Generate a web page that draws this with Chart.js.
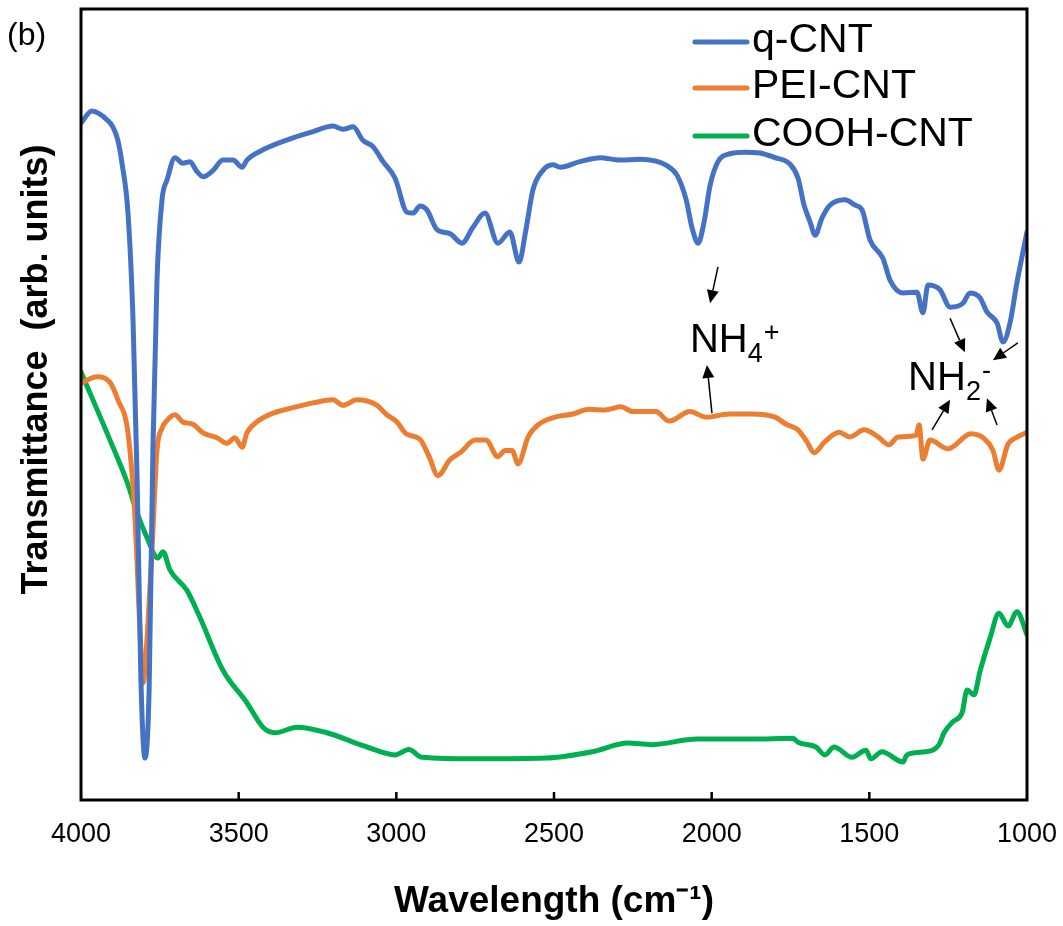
<!DOCTYPE html>
<html><head><meta charset="utf-8">
<script src="https://cdn.jsdelivr.net/npm/chart.js@4/dist/chart.umd.min.js"></script>
<style>html,body{margin:0;padding:0;background:#fff;}#wrap{width:1063px;height:926px;}</style>
</head><body><div id="wrap"><canvas id="c" width="1063" height="926"></canvas></div>
<script>
// ---- data (wavenumber in cm-1, transmittance in arb. units 0-100) ----
const seriesNames = ['q-CNT', 'PEI-CNT', 'COOH-CNT'];
const seriesColors = ['#4472C4', '#ED7D31', '#00B050'];
const xTickValues = [4000, 3500, 3000, 2500, 2000, 1500, 1000];

const qcntWn = [4000,3965,3940,3918,3899,3883,3870,3851,3835,3822,3810,3797,3784,3772,3759,3743,3727,3702,3677,3654,3635,3613,3581,3550,3518,3489,3474,3423,3328,3264,3201,3169,3137,3106,3074,3042,3004,2966,2947,2925,2903,2871,2830,2792,2757,2719,2678,2640,2611,2589,2567,2535,2503,2481,2418,2354,2291,2227,2180,2142,2110,2081,2062,2043,2024,2005,1980,1942,1894,1847,1799,1752,1726,1707,1688,1672,1650,1625,1577,1545,1523,1498,1457,1434,1393,1349,1330,1314,1276,1244,1203,1181,1149,1127,1095,1076,1054,1032,1000];
const qcntT = [85.6,87.1,86.7,86.0,85.1,83.4,80.5,74.2,60.7,40.5,15.2,5.3,13.9,44.2,65.7,75.9,78.4,81.2,80.5,80.7,79.6,78.8,79.6,80.9,80.9,80.0,80.9,82.2,83.7,84.5,85.2,84.8,85.1,83.4,82.6,80.7,78.6,74.3,74.2,75.1,74.6,72.1,71.6,70.4,72.4,74.2,70.4,71.8,68.0,72.1,77.1,79.6,80.3,80.0,80.7,81.2,80.9,81.0,80.8,80.2,79.0,75.9,72.3,70.4,73.1,77.7,80.7,81.7,81.9,81.8,81.2,80.4,78.6,75.2,73.1,71.4,73.6,75.2,75.9,75.2,74.6,70.8,68.5,65.7,64.1,64.2,61.6,65.1,64.5,62.3,62.8,64.1,63.5,61.7,60.3,57.9,60.3,65.4,71.8];

const peiWn = [4000,3949,3908,3883,3851,3829,3813,3803,3791,3775,3759,3743,3727,3702,3677,3645,3613,3569,3537,3512,3489,3474,3442,3391,3328,3264,3201,3169,3125,3061,3033,2998,2969,2925,2896,2868,2830,2795,2750,2716,2678,2655,2633,2614,2582,2548,2497,2440,2389,2338,2288,2249,2177,2135,2069,2018,1945,1872,1799,1764,1726,1698,1675,1641,1596,1561,1517,1472,1438,1409,1352,1342,1330,1308,1250,1178,1133,1108,1089,1060,1035,1000];
const peiT = [52.7,53.5,52.8,50.6,46.4,35.8,21.5,14.8,20.2,31.6,44.2,47.0,48.0,48.7,47.8,47.5,46.4,45.8,45.1,45.8,44.6,46.4,47.8,48.9,49.6,50.2,50.6,49.9,50.6,49.9,48.8,47.8,46.3,45.6,43.4,41.0,43.0,44.0,45.5,45.5,43.4,44.2,44.2,42.5,45.9,47.5,48.4,48.8,49.4,49.3,49.7,49.1,49.1,47.9,49.1,48.4,48.8,48.8,48.4,47.5,46.8,45.3,43.9,45.3,46.5,45.9,46.8,45.9,44.9,45.9,46.1,47.4,43.1,45.5,44.4,46.3,45.6,44.2,41.7,45.0,45.8,46.5];

const coohWn = [4000,3908,3854,3822,3791,3756,3740,3718,3664,3623,3550,3474,3423,3385,3315,3220,3115,3093,3004,2960,2919,2744,2525,2379,2265,2192,2047,1872,1742,1726,1669,1641,1612,1555,1511,1495,1460,1393,1381,1320,1279,1263,1235,1206,1190,1168,1149,1117,1089,1060,1032,1000];
const coohT = [54.1,45.5,40.2,36.3,33.2,30.6,31.4,29.1,26.5,23.1,16.4,12.3,9.2,8.5,9.2,8.5,7.0,6.7,5.7,6.4,5.4,5.2,5.3,6.1,7.2,7.0,7.7,7.7,7.8,7.3,6.7,5.7,6.7,5.4,6.3,5.2,6.1,4.8,5.7,6.1,7.0,8.5,9.9,11.0,13.9,13.3,16.3,20.5,23.6,22.0,23.8,20.9];

// annotations (data coordinates)
const annotLabels = [
  { main: 'NH', sub: '4', sup: '+', wn: 2069, t: 56.6 },
  { main: 'NH', sub: '2', sup: '-', wn: 1377, t: 51.8 }
];
const annotArrows = [
  { fromWn: 1980, fromT: 67.4, toWn: 2005, toT: 62.8 },
  { fromWn: 1999, fromT: 48.9, toWn: 2015, toT: 55.0 },
  { fromWn: 1244, fromT: 60.9, toWn: 1197, toT: 56.6 },
  { fromWn: 1029, fromT: 57.8, toWn: 1108, toT: 55.6 },
  { fromWn: 1301, fromT: 46.8, toWn: 1244, toT: 50.6 },
  { fromWn: 1095, fromT: 47.4, toWn: 1127, toT: 50.8 }
];

const FONT = "'Liberation Sans', Arial, sans-serif";
const toPts = (xs, ys) => xs.map((x, i) => ({ x: x, y: ys[i] }));

const framePlugin = {
  id: 'frame',
  afterDatasetsDraw(chart) {
    const { ctx, chartArea: a, scales: { x } } = chart;
    ctx.save();
    ctx.strokeStyle = '#000';
    ctx.lineWidth = 3;
    ctx.strokeRect(a.left, a.top, a.right - a.left, a.bottom - a.top);
    ctx.lineWidth = 2.5;
    xTickValues.forEach(v => {
      if (v === x.min || v === x.max) return;
      const px = x.getPixelForValue(v);
      ctx.beginPath();
      ctx.moveTo(px, a.bottom);
      ctx.lineTo(px, a.bottom - 8);
      ctx.stroke();
    });
    ctx.restore();
  }
};

const extrasPlugin = {
  id: 'extras',
  afterDraw(chart) {
    const { ctx, scales: { x, y } } = chart;
    ctx.save();
    // panel label
    ctx.fillStyle = '#000';
    ctx.font = '32px ' + FONT;
    ctx.textAlign = 'left';
    ctx.textBaseline = 'middle';
    ctx.fillText('(b)', 7, 36);
    // legend
    const ly = [42, 88, 136];
    chart.data.datasets.forEach((ds, i) => {
      ctx.strokeStyle = ds.borderColor;
      ctx.lineWidth = 5;
      ctx.lineCap = 'round';
      ctx.beginPath();
      ctx.moveTo(695, ly[i]);
      ctx.lineTo(747, ly[i]);
      ctx.stroke();
      ctx.fillStyle = '#000';
      ctx.font = '41px ' + FONT;
      ctx.textBaseline = 'middle';
      ctx.fillText(ds.label, 752, ly[i] - 1);
    });
    // annotation labels
    ctx.textBaseline = 'alphabetic';
    annotLabels.forEach(l => {
      const px = x.getPixelForValue(l.wn), py = y.getPixelForValue(l.t);
      ctx.font = '40px ' + FONT;
      ctx.fillText(l.main, px, py);
      const w = ctx.measureText(l.main).width;
      ctx.font = '27px ' + FONT;
      ctx.fillText(l.sub, px + w, py + 10);
      const w2 = ctx.measureText(l.sub).width;
      ctx.fillText(l.sup, px + w + w2 + 1, py - 11);
    });
    // arrows
    ctx.strokeStyle = '#000';
    ctx.fillStyle = '#000';
    ctx.lineWidth = 1.5;
    ctx.lineCap = 'butt';
    annotArrows.forEach(a => {
      const x1 = x.getPixelForValue(a.fromWn), y1 = y.getPixelForValue(a.fromT);
      const x2 = x.getPixelForValue(a.toWn), y2 = y.getPixelForValue(a.toT);
      const ang = Math.atan2(y2 - y1, x2 - x1);
      const hl = 13, hw = 6;
      const bx = x2 - hl * Math.cos(ang), by = y2 - hl * Math.sin(ang);
      ctx.beginPath();
      ctx.moveTo(x1, y1);
      ctx.lineTo(bx, by);
      ctx.stroke();
      ctx.beginPath();
      ctx.moveTo(x2, y2);
      ctx.lineTo(bx + hw * Math.sin(ang), by - hw * Math.cos(ang));
      ctx.lineTo(bx - hw * Math.sin(ang), by + hw * Math.cos(ang));
      ctx.closePath();
      ctx.fill();
    });
    ctx.restore();
  }
};

new Chart(document.getElementById('c'), {
  type: 'line',
  data: {
    datasets: [
      { label: seriesNames[0], data: toPts(qcntWn, qcntT), borderColor: seriesColors[0] },
      { label: seriesNames[1], data: toPts(peiWn, peiT), borderColor: seriesColors[1] },
      { label: seriesNames[2], data: toPts(coohWn, coohT), borderColor: seriesColors[2] }
    ]
  },
  options: {
    responsive: false,
    animation: false,
    devicePixelRatio: 1,
    layout: { padding: { left: 0, right: 36, top: 9, bottom: 0 } },
    elements: {
      point: { radius: 0 },
      line: { borderWidth: 5, cubicInterpolationMode: 'monotone', borderCapStyle: 'round', borderJoinStyle: 'round', fill: false }
    },
    plugins: { legend: { display: false }, tooltip: { enabled: false } },
    scales: {
      x: {
        type: 'linear', min: 1000, max: 4000, reverse: true,
        afterBuildTicks(s) { s.ticks = xTickValues.map(v => ({ value: v })); },
        ticks: { color: '#000', font: { family: FONT, size: 27 }, padding: 18, maxRotation: 0, autoSkip: false,
                 callback: v => String(v) },
        grid: { display: false, drawTicks: false },
        border: { display: false },
        title: { display: true, text: 'Wavelength (cm⁻¹)', color: '#000', font: { family: FONT, size: 37, weight: 'bold' }, padding: { top: 32, bottom: 2 } },
        afterFit(s) { s.height = 126; s.paddingLeft = 0; s.paddingRight = 0; }
      },
      y: {
        min: 0, max: 100,
        ticks: { display: false },
        grid: { display: false, drawTicks: false },
        border: { display: false },
        title: { display: true, text: '       Transmittance  (arb. units)', color: '#000', font: { family: FONT, size: 36, weight: 'bold' }, padding: { top: 15, bottom: 22 } },
        afterFit(s) { s.width = 81; }
      }
    }
  },
  plugins: [framePlugin, extrasPlugin]
});
</script></body></html>
